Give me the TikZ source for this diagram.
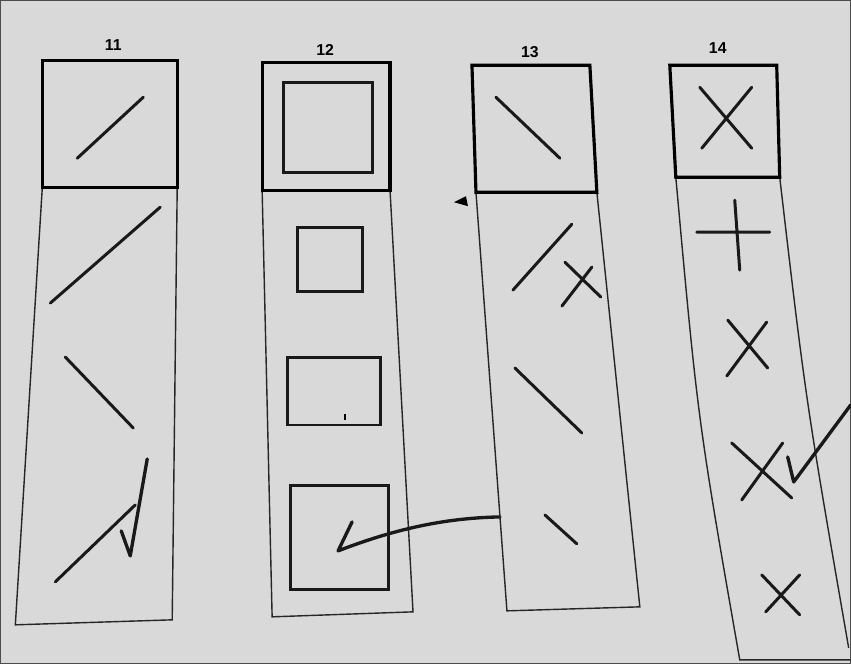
\documentclass[tikz,border=0pt]{standalone}
\usepackage{fontspec}
\setsansfont{Liberation Sans}
\begin{document}
\begin{tikzpicture}[x=0.02cm,y=-0.02cm,
  panelline/.style={draw=black!85, line width=0.8pt},
  samplebox/.style={draw=black, line width=1.8pt},
  glyph/.style={draw=black!90, line width=1.7pt, line cap=round},
  handmark/.style={draw=black!90, line width=1.9pt, line cap=round, line join=round},
  numlabel/.style={font=\sffamily\bfseries\small, inner sep=1pt}]
  % paper
  \useasboundingbox[fill=black!15, draw=black!70] (0,0) rectangle (851,664);
  \foreach \n/\x/\y in {11/113/45,12/325/50,13/530/52,14/718/48}
    \node[numlabel] (lab\n) at (\x,\y) {\n};
  % 11: slanted strokes
  \draw[panelline] (42,187) -- (15,625) -- (172,620) -- (177,187);
  \draw[samplebox] (42,60) rectangle (177,187);
  \draw[glyph] (77,158) -- (143,97);
  \draw[glyph] (50,303) -- (160,207);
  \draw[glyph] (65,357) -- (133,428);
  \draw[glyph] (55,582) -- (135,505);
  \draw[handmark] (121,531) -- (130,556) -- (147,459);
  % 12: squares
  \draw[panelline] (262,190) -- (272,617) -- (413,612) -- (390,190);
  \draw[samplebox] (262,62) rectangle (390,190);
  \draw[glyph] (283,82) rectangle (372,172);
  \draw[glyph] (297,227) rectangle (362,291);
  \draw[glyph] (287,357) rectangle (380,425);
  \draw[glyph] (290,486) rectangle (388,590);
  \draw[line width=1.2pt] (345,414) -- (345,420);
  \draw[handmark] (352,522) -- (338,551) .. controls (400,527) and (450,518) .. (500,517);
  % 13: falling strokes
  \draw[panelline] (476,192) -- (507,611) -- (640,607) -- (597,192);
  \draw[samplebox] (472,65) -- (476,192) -- (597,192) -- (590,65) -- cycle;
  \draw[glyph] (496,97) -- (560,158);
  \draw[glyph] (513,290) -- (572,224);
  \draw[glyph] (565,262) -- (601,297) (562,306) -- (592,267);
  \draw[glyph] (515,368) -- (582,433);
  \draw[glyph] (545,515) -- (577,544);
  \fill (454,202) -- (466,196) -- (468,206) -- cycle;
  % 14: crosses
  \draw[panelline] (676,177) .. controls (698,420) .. (740,660) -- (851,660);
  \draw[panelline] (780,177) .. controls (806,400) .. (849,648);
  \draw[samplebox] (670,65) -- (676,177) -- (780,177) -- (777,65) -- cycle;
  \draw[glyph] (700,87) -- (752,148) (752,87) -- (702,148);
  \draw[glyph] (697,232) -- (770,232) (735,200) -- (740,270);
  \draw[glyph] (728,320) -- (768,368) (767,322) -- (727,376);
  \draw[glyph] (732,443) -- (792,498) (783,443) -- (742,500);
  \draw[handmark] (788,457) -- (794,482) -- (851,405);
  \draw[glyph] (762,575) -- (800,615) (800,575) -- (766,612);
\end{tikzpicture}
\end{document}
